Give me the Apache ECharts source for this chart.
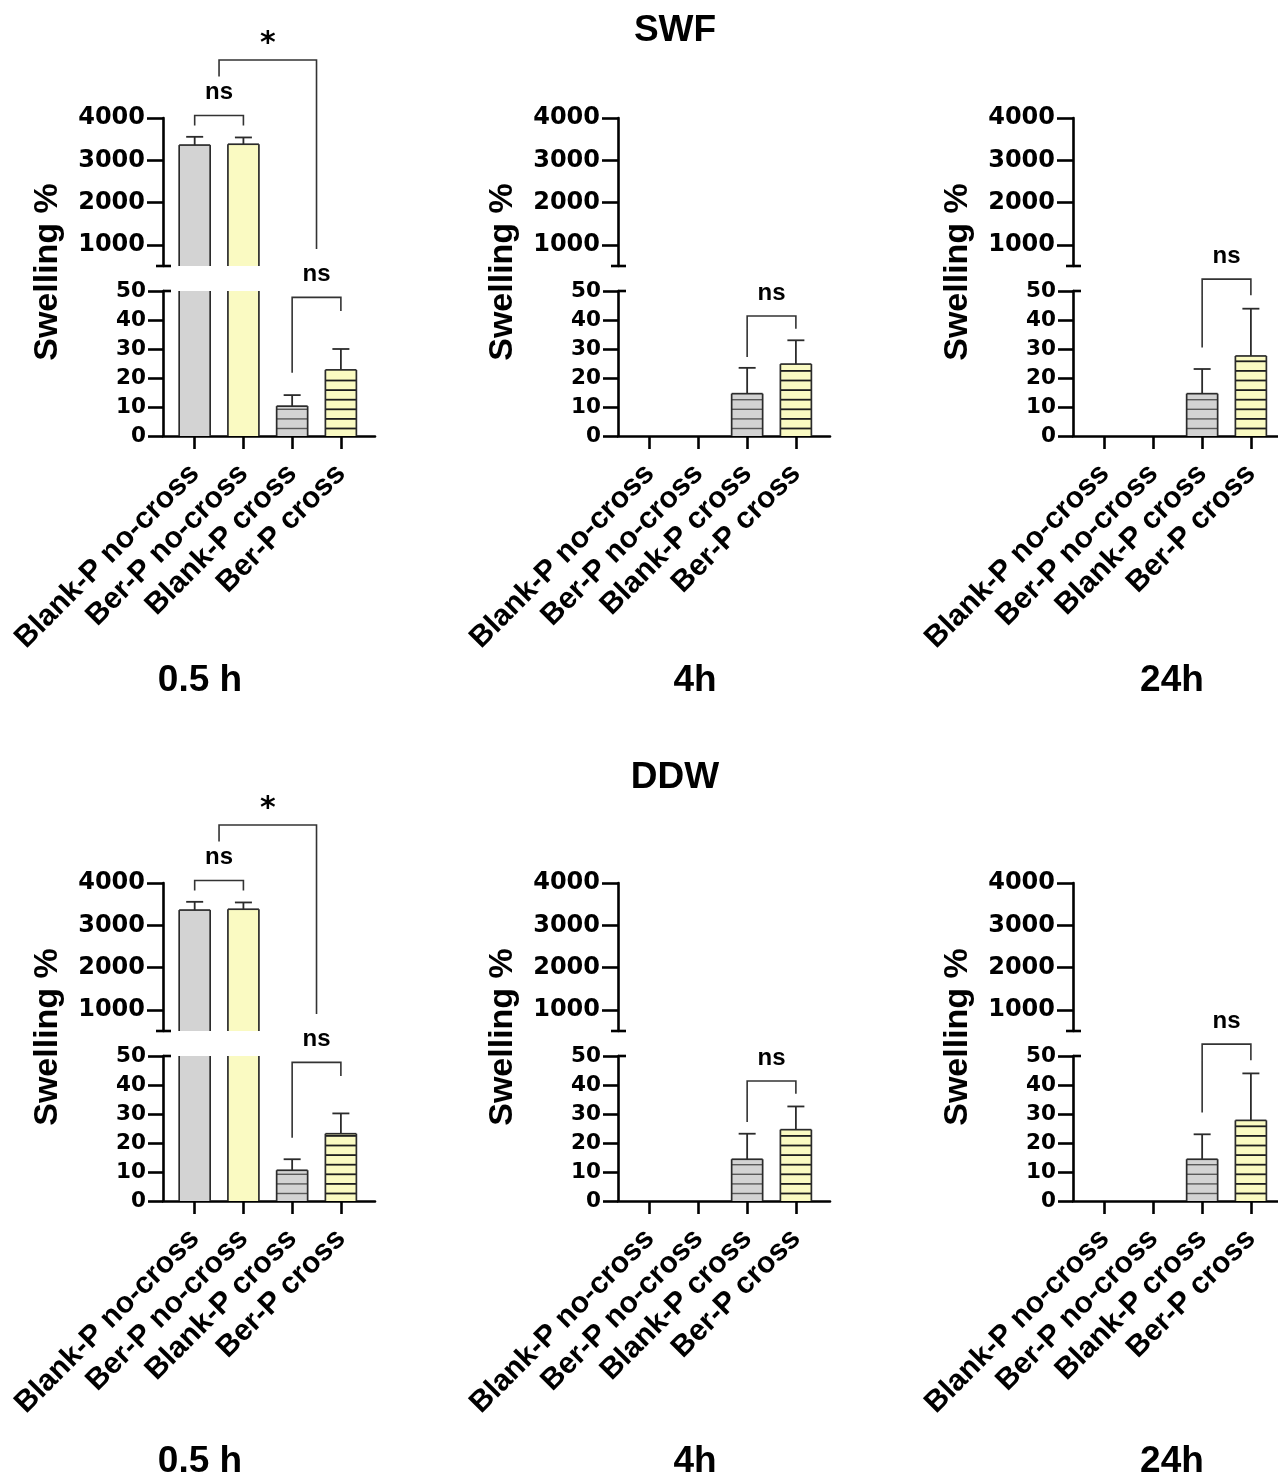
<!DOCTYPE html>
<html>
<head>
<meta charset="utf-8">
<script src="https://cdn.jsdelivr.net/npm/echarts@6/dist/echarts.min.js"></script>
<style>
html,body{margin:0;padding:0;background:#fff;}
#main{width:1278px;height:1480px;}
</style>
</head>
<body>
<div id="main"></div>
<script>
// ---------------- data ----------------
const categories = ['Blank-P no-cross', 'Ber-P no-cross', 'Blank-P cross', 'Ber-P cross'];
const timeLabels = ['0.5 h', '4h', '24h'];
const mediaTitles = ['SWF', 'DDW'];
const upperTicks = [1000, 2000, 3000, 4000];
const lowerTicks = [0, 10, 20, 30, 40, 50];

// SWF means / SD (Swelling %)
const swf_05h = [3360, 3380, 10.3, 22.8];
const swf_05h_sd = [195, 160, 3.8, 7.2];
const swf_4h = [0, 0, 14.6, 24.8];
const swf_4h_sd = [0, 0, 8.9, 8.2];
const swf_24h = [0, 0, 14.6, 27.6];
const swf_24h_sd = [0, 0, 8.5, 16.3];

// DDW means / SD
const ddw_05h = [3360, 3380, 10.6, 23.2];
const ddw_05h_sd = [195, 160, 3.8, 7.0];
const ddw_4h = [0, 0, 14.4, 24.6];
const ddw_4h_sd = [0, 0, 8.8, 8.0];
const ddw_24h = [0, 0, 14.4, 27.8];
const ddw_24h_sd = [0, 0, 8.6, 16.2];

// significance brackets: [segment, fromCat, toCat, topValue, leg1Value, leg2Value, label]
const sig_05h = [
  ['upper', 0, 1, 4060, 3820, 3820, 'ns'],
  ['upper', 0.5, 2.5, 5370, 4980, 900, '*'],
  ['lower', 2, 3, 47.8, 21.8, 43.1, 'ns']
];
const sig_4h = [
  ['lower', 2, 3, 41.4, 27.2, 37.0, 'ns']
];
const sig_24h = [
  ['lower', 2, 3, 54.1, 30.5, 48.5, 'ns']
];

// ---------------- layout / style ----------------
const COLX = [163, 618, 1073];
const ROWDY = [0, 765];
const AX_W = 212;
const UP_TOP = 118, UP_H = 148;
const LO_TOP = 291, LO_H = 145;
const X_MIN = -0.65, X_MAX = 3.7;
const FILLS = ['#d3d3d3', '#fafac2', '#d3d3d3', '#fafac2'];
const HATCH = [null, null, '#5a5a5a', '#1e1e1e'];
const INK = '#000';
const TICK_FONT = 'DejaVu Sans';
const TEXT_FONT = 'Liberation Sans';

const rowsData = [
  { title: mediaTitles[0], means: [swf_05h, swf_4h, swf_24h], sds: [swf_05h_sd, swf_4h_sd, swf_24h_sd] },
  { title: mediaTitles[1], means: [ddw_05h, ddw_4h, ddw_24h], sds: [ddw_05h_sd, ddw_4h_sd, ddw_24h_sd] }
];
const sigs = [sig_05h, sig_4h, sig_24h];

const grids = [], xAxes = [], yAxes = [], series = [];
const panelIdx = [];

function renderBar(params, api) {
  const i = api.value(0), v = api.value(1), sd = api.value(2);
  const cs = params.coordSys;
  if (!(v > 0)) return null;
  const pTop = api.coord([i, v]);
  const pBase = api.coord([i, 0]);
  const cx = pTop[0];
  const hw = api.size([1, 0])[0] * 0.318;
  const top = Math.max(pTop[1], cs.y);
  const bottom = Math.min(pBase[1], cs.y + cs.height);
  if (bottom - top <= 0) return null;
  const children = [];
  children.push({ type: 'rect', shape: { x: cx - hw, y: top, width: 2 * hw, height: bottom - top }, style: { fill: FILLS[i] } });
  if (HATCH[i]) {
    for (let k = 0; k < 100; k++) {
      const y = pBase[1] - 7.5 - k * 9.6;
      if (y <= top + 2) break;
      if (y >= bottom) continue;
      children.push({ type: 'line', shape: { x1: cx - hw, y1: y, x2: cx + hw, y2: y }, style: { stroke: HATCH[i], lineWidth: i === 2 ? 1.4 : 1.8 } });
    }
  }
  const stroke = { stroke: '#2b2b2b', lineWidth: 1.7, fill: null };
  children.push({ type: 'line', shape: { x1: cx - hw, y1: top, x2: cx - hw, y2: bottom }, style: stroke });
  children.push({ type: 'line', shape: { x1: cx + hw, y1: top, x2: cx + hw, y2: bottom }, style: stroke });
  const topVisible = pTop[1] >= cs.y - 0.5;
  if (topVisible) {
    children.push({ type: 'line', shape: { x1: cx - hw, y1: pTop[1], x2: cx + hw, y2: pTop[1] }, style: stroke });
    if (sd > 0) {
      const pe = api.coord([i, v + sd]);
      const es = { stroke: '#2b2b2b', lineWidth: 1.8 };
      children.push({ type: 'line', shape: { x1: cx, y1: pTop[1], x2: cx, y2: pe[1] }, style: es });
      children.push({ type: 'line', shape: { x1: cx - 8.5, y1: pe[1], x2: cx + 8.5, y2: pe[1] }, style: es });
    }
  }
  return { type: 'group', children: children };
}

rowsData.forEach((row, r) => {
  for (let c = 0; c < 3; c++) {
    const dy = ROWDY[r];
    const gUp = grids.length;
    grids.push({ left: COLX[c], top: UP_TOP + dy, width: AX_W, height: UP_H, outerBoundsMode: 'none', containLabel: false });
    const gLo = grids.length;
    grids.push({ left: COLX[c], top: LO_TOP + dy, width: AX_W, height: LO_H, outerBoundsMode: 'none', containLabel: false });
    xAxes.push({ type: 'value', gridIndex: gUp, min: X_MIN, max: X_MAX, show: false });
    xAxes.push({
      type: 'value', gridIndex: gLo, min: X_MIN, max: X_MAX,
      axisLine: { show: true, onZero: false, lineStyle: { color: INK, width: 2.6 } },
      axisTick: { show: true, customValues: [0, 1, 2, 3], length: 13, lineStyle: { color: INK, width: 2.6 } },
      axisLabel: {
        show: true, customValues: [0, 1, 2, 3], rotate: 45, margin: 33,
        formatter: v => categories[Math.round(v)] || '',
        fontFamily: TEXT_FONT, fontWeight: 'bold', fontSize: 30, color: INK
      },
      splitLine: { show: false }
    });
    yAxes.push({
      type: 'value', gridIndex: gUp, min: 500, max: 4000,
      axisLine: { show: true, onZero: false, lineStyle: { color: INK, width: 2.6 } },
      axisTick: { show: true, customValues: upperTicks, length: 16, lineStyle: { color: INK, width: 2.6 } },
      axisLabel: { show: true, customValues: upperTicks, margin: 18, formatter: v => String(v), fontFamily: TICK_FONT, fontWeight: 'bold', fontSize: 24, color: INK },
      splitLine: { show: false }
    });
    yAxes.push({
      type: 'value', gridIndex: gLo, min: 0, max: 50, interval: 10,
      axisLine: { show: true, onZero: false, lineStyle: { color: INK, width: 2.6 } },
      axisTick: { show: true, customValues: lowerTicks, length: 15, lineStyle: { color: INK, width: 2.6 } },
      axisLabel: { show: true, customValues: lowerTicks, margin: 17, formatter: v => String(v), fontFamily: TICK_FONT, fontWeight: 'bold', fontSize: 21.5, color: INK },
      splitLine: { show: false }
    });
    const means = row.means[c], sds = row.sds[c];
    const data = categories.map((name, i) => [i, means[i], sds[i]]);
    [gUp, gLo].forEach(g => {
      series.push({
        type: 'custom', xAxisIndex: g, yAxisIndex: g, clip: false,
        encode: { x: 0, y: 1 }, data: data, renderItem: renderBar, z: 1
      });
    });
    panelIdx.push({ r, c, up: gUp, lo: gLo });
  }
});

const chart = echarts.init(document.getElementById('main'), null, { renderer: 'canvas' });
chart.setOption({
  backgroundColor: '#fff',
  animation: false,
  grid: grids, xAxis: xAxes, yAxis: yAxes, series: series
});

// ---------------- annotations ----------------
const graphics = [];
function px(g, xv, yv) {
  return chart.convertToPixel({ xAxisIndex: g, yAxisIndex: g }, [xv, yv]);
}
function txt(x, y, text, size, opts, family) {
  return Object.assign({
    type: 'text', x: x, y: y, silent: true,
    style: { text: text, font: 'bold ' + size + 'px "' + (family || TEXT_FONT) + '"', fill: INK, align: 'center', verticalAlign: 'middle', textAlign: 'center', textVerticalAlign: 'middle' }
  }, opts || {});
}
mediaTitles.forEach((t, r) => graphics.push(txt(675, [31, 778][r], t, 37)));
const TIME_X = [200, 695, 1172];
const TIME_Y = [681, 1462];
panelIdx.forEach(p => {
  const { r, c, up, lo } = p;
  graphics.push(txt(TIME_X[c], TIME_Y[r], timeLabels[c], 37));
  graphics.push(txt(COLX[c] - 115, 272 + ROWDY[r], 'Swelling %', 34, { rotation: Math.PI / 2 }));
  const ax = COLX[c];
  const pb = px(up, X_MIN, 500);
  graphics.push({ type: 'line', silent: true, shape: { x1: ax - 7, y1: pb[1], x2: ax + 8, y2: pb[1] }, style: { stroke: INK, lineWidth: 2.6 } });
  const pt = px(lo, X_MIN, 50);
  graphics.push({ type: 'line', silent: true, shape: { x1: ax, y1: pt[1], x2: ax + 8, y2: pt[1] }, style: { stroke: INK, lineWidth: 2.6 } });
  sigs[c].forEach(s => {
    const g = s[0] === 'upper' ? up : lo;
    const a = px(g, s[1], s[3]), b = px(g, s[2], s[3]);
    const l1 = px(g, s[1], s[4]), l2 = px(g, s[2], s[5]);
    graphics.push({
      type: 'polyline', silent: true,
      shape: { points: [[a[0], l1[1]], [a[0], a[1]], [b[0], b[1]], [b[0], l2[1]]] },
      style: { stroke: '#333', lineWidth: 1.6, fill: null }
    });
    if (s[6] === '*') {
      graphics.push(txt((a[0] + b[0]) / 2, a[1] - 16, s[6], 30, null, 'DejaVu Sans'));
    } else {
      graphics.push(txt((a[0] + b[0]) / 2, a[1] - 23, s[6], 24));
    }
  });
});
chart.setOption({ graphic: { elements: graphics } });
</script>
</body>
</html>
